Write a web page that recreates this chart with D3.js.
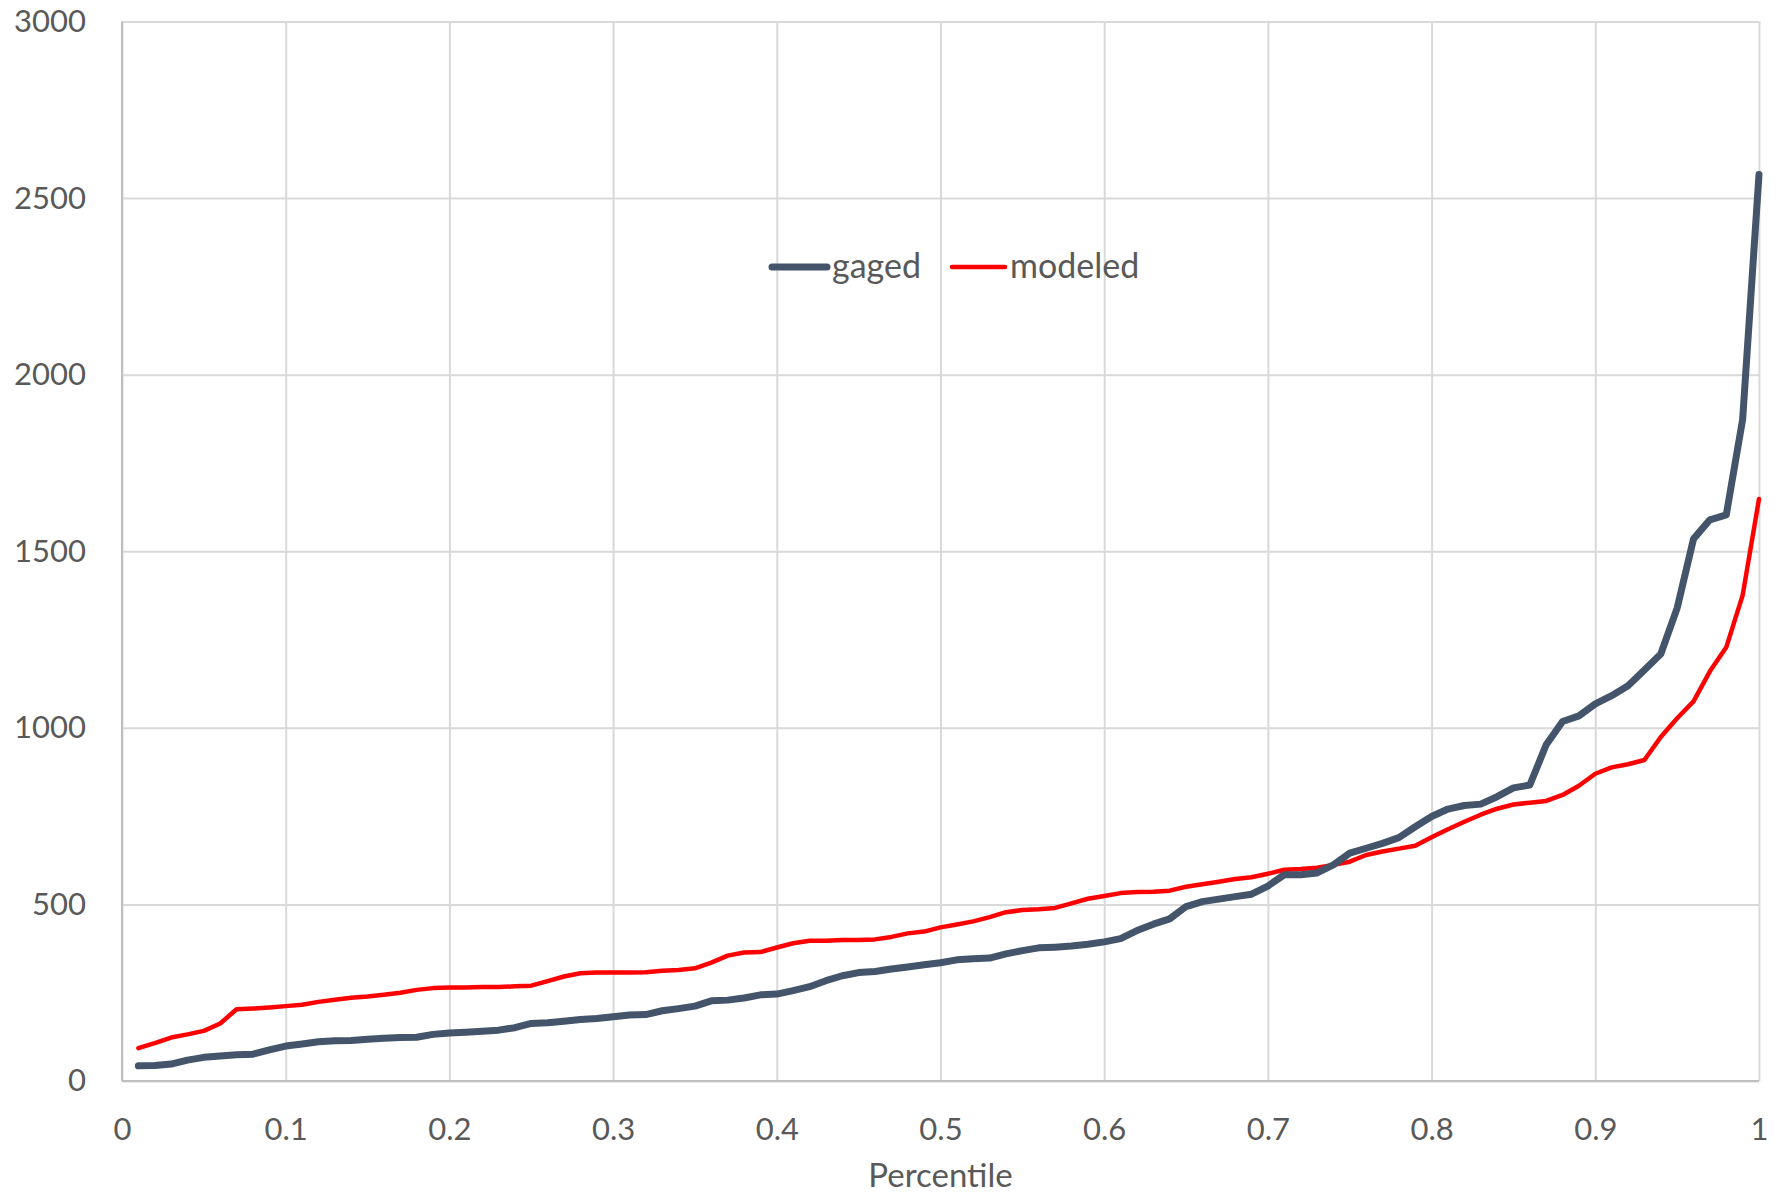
<!DOCTYPE html>
<html>
<head>
<meta charset="utf-8">
<script src="https://cdn.jsdelivr.net/npm/d3@7"></script>
<style>
  body { margin: 0; background: #fff; }
  svg text { font-family: Lato, "Open Sans", sans-serif; fill: #595959; }
</style>
</head>
<body>
<div class="chart"></div>
<script>
// Percentiles (x axis)
const percentiles = [
  0.01,0.02,0.03,0.04,0.05,0.06,0.07,0.08,0.09,0.10,
  0.11,0.12,0.13,0.14,0.15,0.16,0.17,0.18,0.19,0.20,
  0.21,0.22,0.23,0.24,0.25,0.26,0.27,0.28,0.29,0.30,
  0.31,0.32,0.33,0.34,0.35,0.36,0.37,0.38,0.39,0.40,
  0.41,0.42,0.43,0.44,0.45,0.46,0.47,0.48,0.49,0.50,
  0.51,0.52,0.53,0.54,0.55,0.56,0.57,0.58,0.59,0.60,
  0.61,0.62,0.63,0.64,0.65,0.66,0.67,0.68,0.69,0.70,
  0.71,0.72,0.73,0.74,0.75,0.76,0.77,0.78,0.79,0.80,
  0.81,0.82,0.83,0.84,0.85,0.86,0.87,0.88,0.89,0.90,
  0.91,0.92,0.93,0.94,0.95,0.96,0.97,0.98,0.99,1.00
];

const gaged = [
  43,44,48,59,67,71,74,76,88,99,
  105,111,114,115,118,121,123,124,132,136,
  138,141,144,151,163,165,169,174,177,182,
  187,188,199,205,212,227,229,235,244,246,
  256,267,284,298,307,310,317,323,329,335,
  343,346,348,360,369,377,379,382,387,394,
  403,426,444,459,494,508,515,522,529,552,
  584,584,589,612,645,659,673,689,720,749,
  770,780,784,805,830,838,952,1018,1034,1068,
  1091,1119,1164,1209,1339,1535,1589,1603,1873,2567
];

const modeled = [
  93,107,123,132,142,163,203,205,208,212,
  216,224,230,236,239,244,250,258,263,265,
  265,266,266,268,270,283,296,305,307,307,
  307,308,312,314,319,335,355,364,365,378,
  390,397,397,399,399,401,408,418,423,435,
  443,452,464,478,484,486,490,503,516,524,
  532,535,536,539,550,557,564,572,577,587,
  598,600,604,612,621,640,650,658,666,690,
  713,734,754,771,783,788,793,810,836,870,
  888,897,909,974,1027,1075,1160,1228,1375,1648
];

const xTicks = [0,0.1,0.2,0.3,0.4,0.5,0.6,0.7,0.8,0.9,1];
const yTicks = [0,500,1000,1500,2000,2500,3000];

const width = 1781;
const height = 1196;
const plotLeft = 122, plotRight = 1759, plotTop = 21.5, plotBottom = 1081;

const svg = d3.select('.chart').append('svg')
    .attr('width', width)
    .attr('height', height);

const x = d3.scaleLinear().domain([0, 1]).range([plotLeft, plotRight]);
const y = d3.scaleLinear().domain([0, 3000]).range([plotBottom, plotTop]);

// Vertical gridlines + x tick labels
const xAxis = svg.append('g')
    .attr('transform', `translate(0,${plotBottom})`)
    .call(d3.axisBottom(x).tickValues(xTicks).tickFormat(d3.format('~g'))
        .tickSize(-(plotBottom - plotTop)).tickPadding(37));
xAxis.select('.domain').remove();
xAxis.selectAll('line').attr('stroke', '#d9d9d9').attr('stroke-width', 2);
xAxis.selectAll('text').style('font-size', '31px');

// Horizontal gridlines + y tick labels (no thousands separator)
const yAxis = svg.append('g')
    .attr('transform', `translate(${plotLeft},0)`)
    .call(d3.axisLeft(y).tickValues(yTicks).tickFormat(d3.format('d'))
        .tickSize(-(plotRight - plotLeft)).tickPadding(36));
yAxis.select('.domain').remove();
yAxis.selectAll('line').attr('stroke', '#d9d9d9').attr('stroke-width', 2);
yAxis.selectAll('text').style('font-size', '31px');

// Axis lines (darker)
svg.append('line')
    .attr('x1', plotLeft).attr('x2', plotLeft).attr('y1', plotTop).attr('y2', plotBottom)
    .attr('stroke', '#bfbfbf').attr('stroke-width', 2);
svg.append('line')
    .attr('x1', plotLeft).attr('x2', plotRight).attr('y1', plotBottom).attr('y2', plotBottom)
    .attr('stroke', '#bfbfbf').attr('stroke-width', 2);

// Lines
const line = d3.line()
    .x((d, i) => x(percentiles[i]))
    .y(d => y(d));

svg.append('path')
    .datum(modeled)
    .attr('fill', 'none')
    .attr('stroke', '#ff0000')
    .attr('stroke-width', 4.5)
    .attr('stroke-linejoin', 'round')
    .attr('stroke-linecap', 'round')
    .attr('d', line);

svg.append('path')
    .datum(gaged)
    .attr('fill', 'none')
    .attr('stroke', '#44546a')
    .attr('stroke-width', 7)
    .attr('stroke-linejoin', 'round')
    .attr('stroke-linecap', 'round')
    .attr('d', line);

// x axis title
svg.append('text')
    .attr('x', (plotLeft + plotRight) / 2)
    .attr('y', 1187)
    .attr('text-anchor', 'middle')
    .style('font-size', '33px')
    .text('Percentile');

// Legend
const legend = svg.append('g').attr('transform', 'translate(772,267)');
const g1 = legend.append('g');
g1.append('line').attr('x1', 0).attr('x2', 55).attr('y1', 0).attr('y2', 0)
    .attr('stroke', '#44546a').attr('stroke-width', 7).attr('stroke-linecap', 'round');
const t1 = g1.append('text').attr('x', 60).attr('y', 11).style('font-size', '34px').text('gaged');
const next = 60 + t1.node().getComputedTextLength() + 31;
const g2 = legend.append('g').attr('transform', `translate(${next},0)`);
g2.append('line').attr('x1', 0).attr('x2', 53).attr('y1', 0).attr('y2', 0)
    .attr('stroke', '#ff0000').attr('stroke-width', 4.5).attr('stroke-linecap', 'round');
g2.append('text').attr('x', 58).attr('y', 11).style('font-size', '34px').text('modeled');
</script>
</body>
</html>
